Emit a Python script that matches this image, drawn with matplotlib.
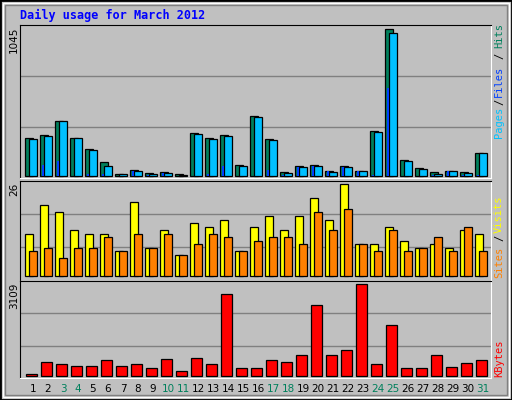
import matplotlib
matplotlib.use("Agg")
import matplotlib.pyplot as plt
from matplotlib.patches import Rectangle
from matplotlib.lines import Line2D
import numpy as np

days = list(range(1, 32))
weekend_days = [3, 4, 10, 11, 17, 18, 24, 25, 31]
hits = [272, 290, 388, 272, 193, 102, 14, 46, 19, 26, 14, 304, 272, 290, 81, 423,
        262, 26, 74, 81, 33, 74, 39, 318, 1045, 116, 60, 26, 33, 26, 165]
pages = [262, 283, 388, 272, 186, 74, 12, 33, 12, 19, 5, 297, 262, 283, 74, 416,
         255, 19, 67, 74, 26, 67, 39, 311, 1015, 109, 53, 12, 33, 19, 165]
files = [2, 77, 105, 2, 14, 14, 2, 33, 5, 19, 0, 2, 14, 70, 2, 2,
         40, 5, 67, 74, 33, 67, 39, 5, 627, 2, 2, 5, 33, 5, 5]
visits = [12, 20, 18, 13, 12, 12, 7, 21, 8, 13, 6, 15, 14, 16, 7, 14,
          17, 13, 17, 22, 16, 26, 9, 9, 14, 10, 8, 9, 8, 13, 12]
sites = [7, 8, 5, 8, 8, 11, 7, 12, 8, 12, 6, 9, 12, 11, 7, 10,
         11, 11, 9, 18, 13, 19, 9, 7, 13, 7, 8, 11, 7, 14, 7]
kbytes = [45, 454, 386, 318, 318, 522, 318, 386, 250, 556, 148, 590, 386, 2769, 250, 250,
          522, 454, 692, 2394, 692, 862, 3109, 386, 1713, 250, 250, 692, 284, 420, 522]
max_labels = ["1045", "26", "3109"]

BG = "#c0c0c0"
W, H = 512, 400
fig = plt.figure(figsize=(5.12, 4.0), dpi=100, facecolor=BG)

def fx(px): return px / W
def fy(py): return 1 - py / H

# frame
fig.patches.append(Rectangle((0, 0), 1, 1, transform=fig.transFigure, fill=False,
                             edgecolor="black", lw=2))
fig.patches.append(Rectangle((fx(3), fy(397)), fx(506), 394/H, transform=fig.transFigure,
                             fill=False, edgecolor="white", lw=1))
fig.patches.append(Rectangle((fx(5), fy(395)), fx(502), 390/H, transform=fig.transFigure,
                             fill=False, edgecolor="#808080", lw=1))

def make_ax(top, bottom):
    ax = fig.add_axes([fx(20), fy(bottom), fx(471), (bottom - top) / H])
    ax.set_facecolor(BG)
    ax.set_xlim(0.233, 31.63)
    ax.set_xticks([])
    ax.set_yticks([])
    for s in ("top", "left"):
        ax.spines[s].set_color("black")
    for s in ("bottom", "right"):
        ax.spines[s].set_color("white")
    for f in (1/3, 2/3):
        ax.add_line(Line2D([0, 1], [f, f], transform=ax.transAxes, color="#808080", lw=1, zorder=0))
    return ax

x = np.array(days, dtype=float)

ax1 = make_ax(25, 178)
ax1.set_ylim(-14, 1073)
ax1.bar(x - 0.41, hits, width=0.53, align="edge", color="#00805c", edgecolor="black", lw=0.9, zorder=2)
ax1.bar(x - 0.15, pages, width=0.49, align="edge", color="#00c0ff", edgecolor="black", lw=0.9, zorder=3)
ax1.bar(x - 0.28, files, width=0.13, align="edge", color="#0040ff", edgecolor="none", lw=0, zorder=4)

ax2 = make_ax(181, 280.5)
ax2.set_ylim(-1.22, 26.9)
ax2.bar(x - 0.41, visits, width=0.53, align="edge", color="#ffff00", edgecolor="black", lw=0.9, zorder=2)
ax2.bar(x - 0.15, sites, width=0.49, align="edge", color="#ff8000", edgecolor="black", lw=0.9, zorder=3)

ax3 = make_ax(280.5, 378)
ax3.set_ylim(-78, 3242)
ax3.bar(x, kbytes, width=0.73, color="#ff0000", edgecolor="black", lw=0.9, zorder=2)

# title
fig.text(fx(20), fy(15), "Daily usage for March 2012", color="#0000ff",
         family="DejaVu Sans Mono", weight="bold", fontsize=8.5, va="center", ha="left")

# left max labels
for lbl, ytop in zip(max_labels, [27, 183, 283]):
    fig.text(fx(14), fy(ytop), lbl, rotation=90, ha="center", va="top", fontsize=7.5,
             family="DejaVu Sans")

# right labels
rl = [("Hits", "#00805c", 36), ("/", "black", 56), ("Files", "#0040ff", 81),
      ("/", "black", 102), ("Pages", "#00c0ff", 122),
      ("Visits", "#ffff00", 214), ("/", "black", 238), ("Sites", "#ff8000", 262),
      ("KBytes", "#ff0000", 358)]
for t, c, yy in rl:
    fig.text(fx(499), fy(yy), t, color=c, rotation=90, ha="center", va="center",
             family="DejaVu Sans Mono", fontsize=7.5)

# day labels
for d in days:
    c = "#00805c" if d in weekend_days else "black"
    xpix = 31.5 + 15 * (d - 1) + 1.5
    fig.text(fx(xpix), fy(389), str(d), color=c, ha="center", va="center",
             fontsize=7.5, family="DejaVu Sans")

fig.savefig("out.png", dpi=100, facecolor=BG)
